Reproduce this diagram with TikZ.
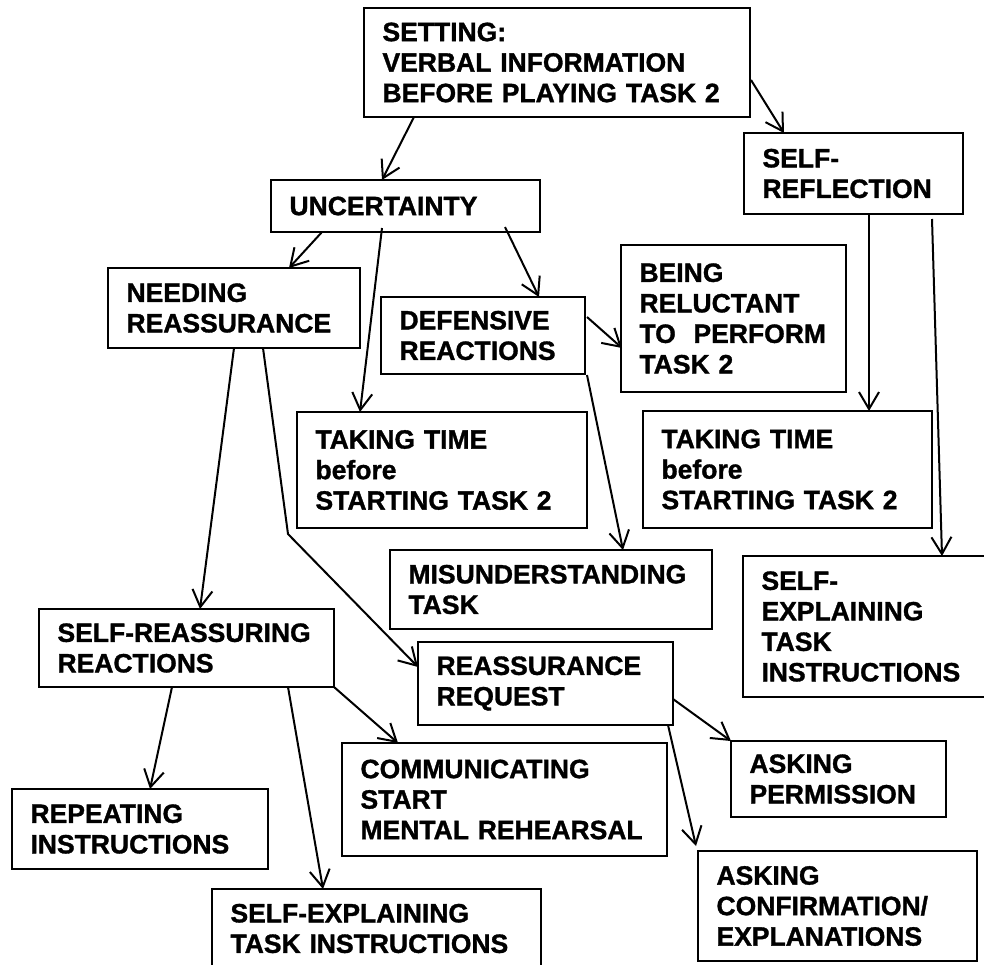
\documentclass[tikz,border=0pt]{standalone}
\usepackage{fontspec}
\setmainfont{Liberation Sans}
\newfontfamily\boxfont{Liberation Sans Bold}[FakeBold=1.2]
\usetikzlibrary{arrows.meta,calc}
\hyphenpenalty=10000
\exhyphenpenalty=10000
\begin{document}
\begin{tikzpicture}[x=1pt,y=-1pt,
  box/.style={draw, line width=2pt, anchor=north west, inner xsep=18.5pt, inner ysep=0pt,
    outer sep=0pt, align=left, font=\boxfont\fontsize{26.5}{30.5}\selectfont},
  arr/.style={line width=2pt, -{Straight Barb[length=17pt,width=20pt]}}]
\useasboundingbox (0,0) rectangle (984,964);
% boxes
\node[box, text width=349pt, minimum height=109pt] (set) at (364,8) {SETTING:\\VERBAL~INFORMATION\\BEFORE~PLAYING~TASK~2};
\node[box, text width=232pt, minimum height=52pt] (unc) at (271,180) {UNCERTAINTY};
\node[box, text width=182pt, minimum height=81pt] (refl) at (744,133) {SELF-\\REFLECTION};
\node[box, text width=215pt, minimum height=80pt] (need) at (108,268) {NEEDING\\REASSURANCE};
\node[box, text width=167pt, minimum height=77pt] (def) at (381,297) {DEFENSIVE\\REACTIONS};
\node[box, text width=188pt, minimum height=147pt] (rel) at (621,245) {BEING\\RELUCTANT\\TO~~PERFORM\\TASK~2};
\node[box, text width=253pt, minimum height=116pt] (take1) at (297,412) {TAKING~TIME\\before\\STARTING~TASK~2};
\node[box, text width=252pt, minimum height=117pt] (take2) at (643,411) {TAKING~TIME\\before\\STARTING~TASK~2};
\node[box, text width=285pt, minimum height=79pt] (mis) at (390,550) {MISUNDERSTANDING\\TASK};
\node[box, text width=210pt, minimum height=141pt] (sexp1) at (743,556) {SELF-\\EXPLAINING\\TASK\\INSTRUCTIONS};
\node[box, text width=258pt, minimum height=78pt] (sreass) at (39,609) {SELF-REASSURING\\REACTIONS};
\node[box, text width=218pt, minimum height=83pt] (rreq) at (418,642) {REASSURANCE\\REQUEST};
\node[box, text width=288pt, minimum height=113pt] (comm) at (342,743) {COMMUNICATING\\START\\MENTAL~REHEARSAL};
\node[box, text width=178pt, minimum height=76pt] (perm) at (731,741) {ASKING\\PERMISSION};
\node[box, text width=219pt, minimum height=80pt] (rep) at (12,789) {REPEATING\\INSTRUCTIONS};
\node[box, text width=242pt, minimum height=110pt] (conf) at (698,851) {ASKING\\CONFIRMATION/\\EXPLANATIONS};
\node[box, text width=292pt, minimum height=79pt] (sexp2) at (212,889) {SELF-EXPLAINING\\TASK~INSTRUCTIONS};
\coordinate (bend) at (288,534);
% connectors
\draw[arr] ($(set.north west)+(50,109)$) -- ($(unc.north west)+(111,0)$);
\draw[arr] ($(set.north west)+(387,72)$) -- ($(refl.north west)+(40,0)$);
\draw[arr] ($(unc.north west)+(51,52)$) -- ($(need.north west)+(181,0)$);
\draw[arr] ($(unc.north west)+(111,48)$) -- ($(take1.north west)+(63,0)$);
\draw[arr] ($(unc.north west)+(234,47)$) -- ($(def.north west)+(158,0)$);
\draw[arr] ($(def.north west)+(206,20)$) -- ($(rel.north west)+(1,103)$);
\draw[arr] ($(def.north west)+(206,78)$) -- ($(mis.north west)+(233,0)$);
\draw[arr] ($(refl.north west)+(125,81)$) -- ($(take2.north west)+(226,0)$);
\draw[arr] ($(refl.north west)+(188,86)$) -- ($(sexp1.north west)+(199,0)$);
\draw[arr] ($(need.north west)+(126,80)$) -- ($(sreass.north west)+(161,0)$);
\draw[arr] ($(need.north west)+(155,80)$) -- (bend) -- ($(rreq.north west)+(0,25)$);
\draw[arr] ($(sreass.north west)+(133,78)$) -- ($(rep.north west)+(138,0)$);
\draw[arr] ($(sreass.north west)+(249,78)$) -- ($(sexp2.north west)+(111,0)$);
\draw[arr] (sreass.south east) -- ($(comm.north west)+(56,0)$);
\draw[arr] ($(rreq.north west)+(255,57)$) -- (perm.north west);
\draw[arr] ($(rreq.north west)+(250,83)$) -- ($(conf.north west)+(-2,-5)$);
\end{tikzpicture}
\end{document}
